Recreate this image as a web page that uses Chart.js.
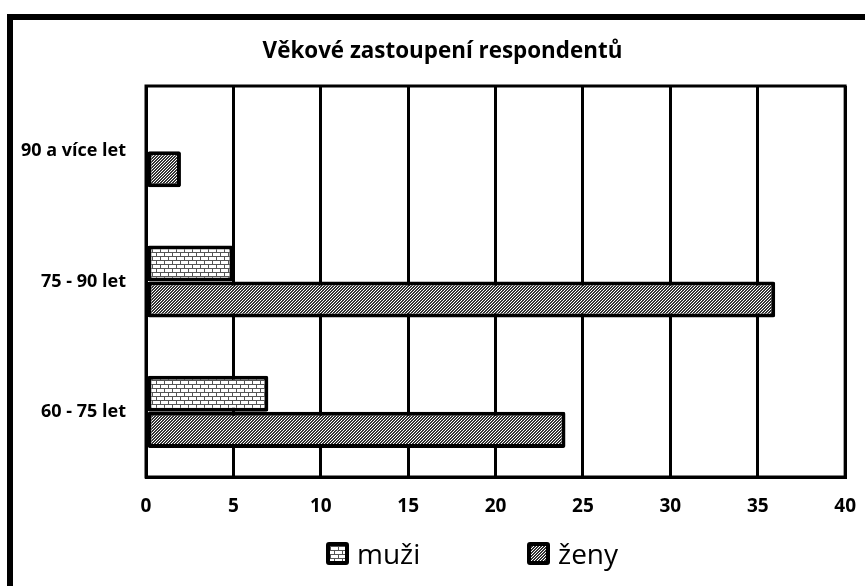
<!DOCTYPE html>
<html>
<head>
<meta charset="utf-8">
<script src="https://cdn.jsdelivr.net/npm/chart.js@4.4.1/dist/chart.umd.min.js"></script>
<style>
  html, body { margin: 0; padding: 0; background: #fff; overflow: hidden; }
  #frame { position: absolute; left: 7px; top: 14px; width: 900px; height: 700px; border: 6px solid #000; }
  #wrap { position: absolute; left: 0; top: 0; width: 874px; height: 586px; }
  #title { position: absolute; left: 0; top: 35px; width: 885px; text-align: center; font-family: "Open Sans", sans-serif; font-weight: bold; font-size: 22.4px; line-height: 30px; color: #000; }
  #legend { position: absolute; left: 326px; top: 538px; display: flex; align-items: center; font-family: "Open Sans", sans-serif; font-size: 28px; line-height: 30px; color: #000; }
  .item { display: flex; align-items: center; }
  .item:first-child { width: 201px; }
  .sw { width: 23px; height: 23px; box-sizing: border-box; border: 4px solid #000; border-radius: 3px; margin-right: 8px; }
</style>
</head>
<body>
<div id="frame"></div>
<div id="wrap"><canvas id="c"></canvas></div>
<div id="title"></div>
<div id="legend"></div>
<script>
const titleText = 'Věkové zastoupení respondentů';
const categories = ['90 a více let', '75 - 90 let', '60 - 75 let'];
const seriesNames = ['muži', 'ženy'];
const muzi = [0, 5, 7];
const zeny = [2, 36, 24];
const xTicksMin = 0, xTicksMax = 40, xTicksStep = 5;

document.getElementById('title').textContent = titleText;

function brickTile() {
  const c = document.createElement('canvas');
  c.width = 8; c.height = 8;
  const g = c.getContext('2d');
  g.fillStyle = '#fff'; g.fillRect(0, 0, 8, 8);
  g.fillStyle = '#555';
  g.fillRect(0, 0, 8, 1);
  g.fillRect(0, 4, 8, 1);
  g.fillRect(0, 1, 1, 3);
  g.fillRect(4, 5, 1, 3);
  return c;
}
function hatchTile() {
  const c = document.createElement('canvas');
  c.width = 3; c.height = 3;
  const g = c.getContext('2d');
  for (let x = 0; x < 3; x++) for (let y = 0; y < 3; y++) {
    g.fillStyle = ((x + y) % 3 === 2) ? '#fff' : '#333';
    g.fillRect(x, y, 1, 1);
  }
  return c;
}
const tiles = [brickTile(), hatchTile()];
const pctx = document.createElement('canvas').getContext('2d');
const patterns = tiles.map(t => pctx.createPattern(t, 'repeat'));

const legend = document.getElementById('legend');
seriesNames.forEach((n, i) => {
  const it = document.createElement('div'); it.className = 'item';
  const sw = document.createElement('div'); sw.className = 'sw';
  sw.style.backgroundImage = 'url(' + tiles[i].toDataURL() + ')';
  const tx = document.createElement('span'); tx.textContent = n;
  it.appendChild(sw); it.appendChild(tx); legend.appendChild(it);
});

const frameRect = {
  id: 'frameRect',
  beforeDatasetsDraw(chart) {
    const a = chart.chartArea, ctx = chart.ctx;
    ctx.save();
    ctx.strokeStyle = '#000'; ctx.lineWidth = 3;
    ctx.strokeRect(a.left, a.top, a.right - a.left, a.bottom - a.top);
    ctx.restore();
  }
};

new Chart(document.getElementById('c'), {
  type: 'bar',
  data: {
    labels: categories,
    datasets: [
      { label: seriesNames[0], data: muzi, backgroundColor: patterns[0], borderColor: '#000', borderWidth: 4, borderSkipped: false, borderRadius: 2 },
      { label: seriesNames[1], data: zeny, backgroundColor: patterns[1], borderColor: '#000', borderWidth: 4, borderSkipped: false, borderRadius: 2 }
    ]
  },
  options: {
    indexAxis: 'y',
    responsive: true,
    maintainAspectRatio: false,
    animation: false,
    categoryPercentage: 0.554,
    barPercentage: 1,
    layout: { padding: { left: 10, right: 0, top: 86, bottom: 60 } },
    plugins: {
      legend: { display: false },
      tooltip: { enabled: false },
      title: { display: false }
    },
    scales: {
      x: {
        min: xTicksMin, max: xTicksMax,
        ticks: { stepSize: xTicksStep, color: '#000', padding: 18, font: { family: 'Open Sans', size: 19, weight: 'bold' } },
        grid: { color: '#000', lineWidth: 3, drawTicks: false },
        border: { display: true, color: '#000', width: 3 },
        afterFit(s) { s.height = 49; }
      },
      y: {
        ticks: { color: '#000', padding: 20, font: { family: 'Open Sans', size: 18, weight: 'bold' } },
        grid: { display: false, drawTicks: false },
        border: { display: false },
        afterFit(s) { s.width = 136; }
      }
    }
  },
  plugins: [frameRect]
});
</script>
</body>
</html>
